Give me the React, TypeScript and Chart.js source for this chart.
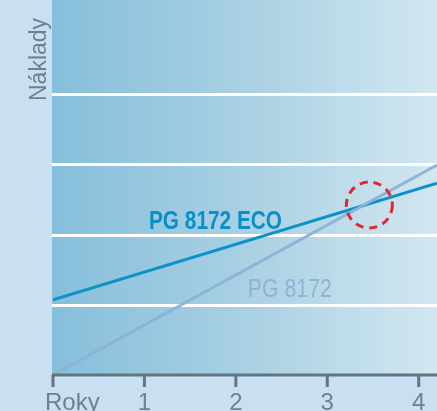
import React, { useEffect, useRef } from "react";
import { Chart, registerables } from "chart.js";

Chart.register(...registerables);

const years = [0, 4.2];
const ecoCost = [1.07, 2.73];
const stdCost = [0, 2.99];
const xTicks = [0, 1, 2, 3, 4];
const xTickLabels = ["Roky", "1", "2", "3", "4"];
const yGrid = [1, 2, 3, 4];
const seriesNames = ["PG 8172 ECO", "PG 8172"];
const labelAnchors = [
  { year: 1.05, cost: 2.08 },
  { year: 2.13, cost: 1.11 },
];
const breakEven = { year: 3.46, cost: 2.42 };
const yTitle = "Náklady";

const SANS = '"Liberation Sans", Arial, sans-serif';

function narrowText(ctx: any, text: string, px: number, py: number, font: string, color: string, sx: number) {
  ctx.save();
  ctx.translate(px, py);
  ctx.scale(sx, 1);
  ctx.font = font;
  ctx.fillStyle = color;
  ctx.textAlign = "left";
  ctx.textBaseline = "alphabetic";
  ctx.fillText(text, 0, 0);
  ctx.restore();
}

const decor = {
  id: "decor",
  beforeDraw(chart: any) {
    const { ctx, chartArea: a, scales } = chart;
    const y = scales.y;
    ctx.save();
    ctx.fillStyle = "#c9e0f3";
    ctx.fillRect(0, 0, chart.width, chart.height);
    const g = ctx.createLinearGradient(a.left, 0, a.right, 0);
    g.addColorStop(0, "#86bfdb");
    g.addColorStop(0.5, "#a9d0e3");
    g.addColorStop(1, "#d2e7f1");
    ctx.fillStyle = g;
    ctx.fillRect(a.left - 1, a.top, a.right - a.left + 1, a.bottom - a.top);
    ctx.strokeStyle = "#ffffff";
    ctx.lineWidth = 3;
    yGrid.forEach((v) => {
      const py = Math.round(y.getPixelForValue(v)) + 0.5;
      ctx.beginPath();
      ctx.moveTo(a.left - 1, py);
      ctx.lineTo(a.right, py);
      ctx.stroke();
    });
    ctx.restore();
  },
  afterDatasetsDraw(chart: any) {
    const { ctx, chartArea: a, scales } = chart;
    const x = scales.x;
    const y = scales.y;
    ctx.save();
    const base = y.getPixelForValue(0);
    ctx.strokeStyle = "#607781";
    ctx.lineWidth = 3;
    ctx.beginPath();
    ctx.moveTo(a.left - 1, base);
    ctx.lineTo(a.right, base);
    ctx.stroke();
    xTicks.forEach((t, i) => {
      const px = x.getPixelForValue(t);
      ctx.beginPath();
      ctx.moveTo(px, base);
      ctx.lineTo(px, base + 12);
      ctx.stroke();
      ctx.fillStyle = "#6c828c";
      ctx.font = `24px ${SANS}`;
      ctx.textBaseline = "alphabetic";
      if (i === 0) {
        ctx.textAlign = "left";
        ctx.fillText(xTickLabels[i], px - 8, base + 35);
      } else {
        ctx.textAlign = "center";
        ctx.fillText(xTickLabels[i], px, base + 35);
      }
    });
    ctx.save();
    ctx.translate(46, 101);
    ctx.rotate(-Math.PI / 2);
    ctx.fillStyle = "#6c828c";
    ctx.font = `23px ${SANS}`;
    ctx.textAlign = "left";
    ctx.textBaseline = "alphabetic";
    ctx.fillText(yTitle, 0, 0);
    ctx.restore();
    narrowText(ctx, seriesNames[0], x.getPixelForValue(labelAnchors[0].year), y.getPixelForValue(labelAnchors[0].cost), `bold 26px ${SANS}`, "#0a8fc6", 0.8);
    narrowText(ctx, seriesNames[1], x.getPixelForValue(labelAnchors[1].year), y.getPixelForValue(labelAnchors[1].cost), `26px ${SANS}`, "#8fb3d4", 0.82);
    ctx.strokeStyle = "#e8232d";
    ctx.lineWidth = 3;
    ctx.setLineDash([8, 6]);
    ctx.beginPath();
    ctx.arc(x.getPixelForValue(breakEven.year), y.getPixelForValue(breakEven.cost), 23, 0, Math.PI * 2);
    ctx.stroke();
    ctx.restore();
  },
};

export default function App() {
  const ref = useRef<HTMLCanvasElement | null>(null);
  useEffect(() => {
    if (!ref.current) return;
    const chart = new Chart(ref.current, {
      type: "line",
      data: {
        datasets: [
          {
            label: seriesNames[1],
            data: years.map((v, i) => ({ x: v, y: stdCost[i] })),
            borderColor: "rgba(140,178,214,0.95)",
            borderWidth: 3,
            pointRadius: 0,
            fill: false,
          },
          {
            label: seriesNames[0],
            data: years.map((v, i) => ({ x: v, y: ecoCost[i] })),
            borderColor: "#0b92c8",
            borderWidth: 3,
            pointRadius: 0,
            fill: false,
          },
        ],
      },
      options: {
        animation: false,
        responsive: true,
        maintainAspectRatio: false,
        layout: { padding: { left: 53, right: 0, top: 0, bottom: 36 } },
        plugins: { legend: { display: false }, tooltip: { enabled: false } },
        scales: {
          x: { type: "linear", min: 0, max: 4.2, display: false },
          y: { type: "linear", min: 0, max: 5.34, display: false },
        },
      },
      plugins: [decor],
    });
    return () => chart.destroy();
  }, []);
  return (
    <div style={{ position: "fixed", left: 0, top: 0, width: 437, height: 411 }}>
      <canvas ref={ref} />
    </div>
  );
}
